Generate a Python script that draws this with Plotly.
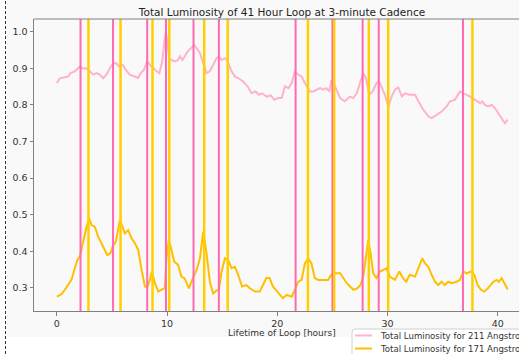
import plotly.graph_objects as go

# ---- data ----
t_211 = [0, 0.27, 0.73, 1.03, 1.24, 1.63, 2.09, 2.39, 2.75, 3.0,
         3.3, 3.6, 3.9, 4.2, 4.5, 4.8, 5.1, 5.4, 5.65, 5.96,
         6.26, 6.62, 7.08, 7.38, 7.6, 7.9, 8.2, 8.44, 8.8, 9.05,
         9.3, 9.56, 9.8, 9.9, 10.05, 10.2, 10.4, 10.7, 11.0, 11.16,
         11.4, 11.6, 11.86, 12.16, 12.46, 12.68, 12.98, 13.28, 13.58, 13.88,
         14.2, 14.5, 14.7, 14.95, 15.25, 15.5, 15.85, 16.15, 16.5, 16.9,
         17.3, 17.67, 18.03, 18.33, 18.63, 19.03, 19.42, 19.72, 20.08, 20.4,
         20.7, 21.0, 21.3, 21.6, 21.9, 22.2, 22.5, 22.96, 23.26, 23.57,
         23.87, 24.17, 24.47, 24.7, 24.93, 25.1, 25.4, 25.7, 26.1, 26.6,
         26.9, 27.2, 27.5, 27.8, 28.04, 28.35, 28.65, 29.0, 29.25, 29.46,
         29.76, 30.07, 30.37, 30.67, 30.97, 31.3, 31.6, 32.0, 32.5, 32.8,
         33.24, 33.7, 34.0, 34.45, 34.9, 35.36, 35.66, 36.1, 36.57, 36.87,
         37.2, 37.5, 37.93, 38.4, 38.6, 38.84, 39.1, 39.45, 39.75, 40.05,
         40.4, 40.65, 40.9]
lum_211 = [0.860, 0.873, 0.876, 0.878, 0.887, 0.892, 0.905, 0.900, 0.900, 0.892,
           0.883, 0.887, 0.883, 0.873, 0.883, 0.900, 0.914, 0.914, 0.905, 0.910,
           0.896, 0.883, 0.878, 0.874, 0.887, 0.896, 0.919, 0.910, 0.900, 0.892,
           0.887, 0.919, 0.983, 1.000, 0.964, 0.925, 0.923, 0.919, 0.923, 0.933,
           0.923, 0.933, 0.946, 0.955, 0.964, 0.955, 0.942, 0.914, 0.887, 0.892,
           0.910, 0.928, 0.933, 0.923, 0.928, 0.919, 0.892, 0.878, 0.873, 0.864,
           0.851, 0.832, 0.837, 0.828, 0.832, 0.823, 0.826, 0.814, 0.819, 0.819,
           0.851, 0.846, 0.860, 0.892, 0.883, 0.878, 0.860, 0.837, 0.837, 0.842,
           0.846, 0.842, 0.846, 0.837, 0.869, 0.860, 0.837, 0.819, 0.810, 0.823,
           0.819, 0.832, 0.860, 0.887, 0.873, 0.828, 0.837, 0.860, 0.864, 0.851,
           0.828, 0.796, 0.823, 0.842, 0.848, 0.823, 0.832, 0.828, 0.828, 0.810,
           0.787, 0.769, 0.764, 0.773, 0.782, 0.796, 0.810, 0.814, 0.837, 0.832,
           0.828, 0.823, 0.814, 0.805, 0.810, 0.800, 0.796, 0.800, 0.791, 0.778,
           0.760, 0.750, 0.760]

t_171 = [0, 0.43, 0.73, 1.03, 1.33, 1.63, 1.85, 2.09, 2.4, 2.7,
         2.93, 3.15, 3.45, 3.75, 4.05, 4.35, 4.57, 4.87, 5.05, 5.35,
         5.72, 5.96, 6.17, 6.47, 6.78, 7.08, 7.38, 7.69, 7.99, 8.2,
         8.44, 8.62, 8.9, 9.2, 9.5, 9.8, 9.95, 10.16, 10.4, 10.65,
         11.0, 11.3, 11.6, 11.98, 12.28, 12.68, 12.98, 13.28, 13.58, 13.88,
         14.18, 14.5, 14.7, 14.95, 15.25, 15.55, 15.85, 16.15, 16.45, 16.8,
         17.2, 17.5, 17.97, 18.4, 18.7, 19.0, 19.3, 19.6, 20.0, 20.24,
         20.5, 20.84, 21.3, 21.6, 21.9, 22.2, 22.5, 22.8, 23.1, 23.4,
         23.7, 24.17, 24.6, 24.9, 25.2, 25.7, 26.0, 26.3, 26.6, 26.9,
         27.25, 27.55, 27.8, 28.04, 28.25, 28.46, 28.7, 29.0, 29.3, 29.6,
         29.9, 30.2, 30.67, 31.07, 31.4, 31.7, 32.0, 32.5, 32.8, 33.15,
         33.4, 33.7, 34.0, 34.3, 34.6, 34.9, 35.2, 35.5, 35.8, 36.27,
         36.57, 36.87, 37.17, 37.57, 37.87, 38.17, 38.47, 38.78, 39.1, 39.6,
         39.9, 40.1, 40.35, 40.65, 40.9]
lum_171 = [0.276, 0.283, 0.295, 0.308, 0.322, 0.354, 0.376, 0.386, 0.431, 0.467,
           0.490, 0.472, 0.467, 0.440, 0.422, 0.404, 0.390, 0.395, 0.413, 0.426,
           0.486, 0.467, 0.449, 0.458, 0.436, 0.422, 0.404, 0.349, 0.304, 0.302,
           0.322, 0.345, 0.313, 0.290, 0.295, 0.300, 0.381, 0.431, 0.404, 0.372,
           0.363, 0.331, 0.326, 0.299, 0.322, 0.349, 0.381, 0.454, 0.395, 0.317,
           0.285, 0.293, 0.295, 0.345, 0.381, 0.376, 0.354, 0.358, 0.336, 0.304,
           0.308, 0.299, 0.290, 0.290, 0.308, 0.327, 0.327, 0.304, 0.290, 0.281,
           0.272, 0.281, 0.276, 0.295, 0.317, 0.322, 0.367, 0.381, 0.367, 0.327,
           0.322, 0.322, 0.322, 0.336, 0.340, 0.340, 0.327, 0.313, 0.304, 0.295,
           0.299, 0.308, 0.331, 0.381, 0.431, 0.395, 0.340, 0.327, 0.345, 0.349,
           0.354, 0.331, 0.322, 0.345, 0.327, 0.317, 0.336, 0.331, 0.354, 0.381,
           0.367, 0.358, 0.336, 0.317, 0.308, 0.317, 0.308, 0.317, 0.313, 0.317,
           0.322, 0.345, 0.340, 0.345, 0.336, 0.308, 0.295, 0.290, 0.299, 0.317,
           0.322, 0.317, 0.327, 0.308, 0.296]

pink_events = [2.15, 5.1, 8.2, 9.9, 12.4, 14.7, 21.66, 25.0, 27.74, 29.2, 36.84]
gold_events = [2.87, 5.78, 8.68, 10.2, 13.37, 15.5, 22.78, 25.16, 28.3, 30.06, 37.7]

x_ticks = [0, 10, 20, 30, 40]
y_ticks = [0.3, 0.4, 0.5, 0.6, 0.7, 0.8, 0.9, 1.0]

TITLE = "Total Luminosity of 41 Hour Loop at 3-minute Cadence"
XLABEL = "Lifetime of Loop [hours]"
NAME_211 = "Total Luminosity for 211 Angstrom"
NAME_171 = "Total Luminosity for 171 Angstrom"

C211, C171 = "#ffb3c6", "#ffbf00"
CPINK, CGOLD = "#ff69b4", "#ffd000"

# ---- figure geometry (pixels) ----
W, H = 519, 354
L, T, B = 34, 19, 311
PW, PH = W - L, B - T
FONT = "DejaVu Sans"

def px_x(p):
    return (p - L) / PW

def px_y(p):
    return (B - p) / PH

fig = go.Figure()
fig.add_trace(go.Scatter(x=t_211, y=lum_211, mode="lines", name=NAME_211,
                         line=dict(color=C211, width=2), showlegend=False))
fig.add_trace(go.Scatter(x=t_171, y=lum_171, mode="lines", name=NAME_171,
                         line=dict(color=C171, width=2), showlegend=False))

for xv in pink_events:
    fig.add_vline(x=xv, line=dict(color=CPINK, width=2))
for xv in gold_events:
    fig.add_vline(x=xv, line=dict(color=CGOLD, width=2.5))

# background of the figure panel and the clipped notebook border
fig.add_shape(type="rect", xref="paper", yref="paper", layer="below",
              x0=px_x(7), x1=px_x(W), y0=px_y(337), y1=px_y(0),
              fillcolor="#f9f9f9", line=dict(width=0))
fig.add_shape(type="line", xref="paper", yref="paper",
              x0=px_x(5.5), x1=px_x(5.5), y0=px_y(H), y1=px_y(0),
              line=dict(color="#333333", width=1, dash="3px,2px"))
# top spine
fig.add_shape(type="line", xref="paper", yref="paper",
              x0=0, x1=1, y0=1, y1=1, line=dict(color="#808080", width=1))

# legend (clipped by the picture's right and bottom edges, as in the reference)
lx0, ly0, lx1, ly1, r = 352, 329, 600, 400, 3
path = (f"M {px_x(lx0)},{px_y(ly1)} L {px_x(lx0)},{px_y(ly0 + r)} "
        f"Q {px_x(lx0)},{px_y(ly0)} {px_x(lx0 + r)},{px_y(ly0)} "
        f"L {px_x(lx1)},{px_y(ly0)} L {px_x(lx1)},{px_y(ly1)} Z")
fig.add_shape(type="path", xref="paper", yref="paper", path=path,
              fillcolor="#ffffff", line=dict(color="#d0d0d0", width=1))
for name, col, yy in [(NAME_211, C211, 335.5), (NAME_171, C171, 348.5)]:
    fig.add_shape(type="line", xref="paper", yref="paper",
                  x0=px_x(355), x1=px_x(372), y0=px_y(yy), y1=px_y(yy),
                  line=dict(color=col, width=2))
    fig.add_annotation(text=name, xref="paper", yref="paper",
                       x=px_x(378), y=px_y(yy), showarrow=False,
                       xanchor="left", yanchor="middle",
                       font=dict(family=FONT, size=8.6, color="#333333"))

fig.add_annotation(text=XLABEL, xref="paper", yref="paper",
                   x=px_x(282), y=px_y(332.5), showarrow=False,
                   font=dict(family=FONT, size=9, color="#333333"),
                   xanchor="center", yanchor="middle")

fig.update_layout(
    width=W, height=H,
    margin=dict(l=L, r=0, t=T, b=H - B, autoexpand=False),
    paper_bgcolor="#ffffff", plot_bgcolor="#f9f9f9",
    font=dict(family=FONT, size=10, color="#333333"),
    title=dict(text=TITLE, x=px_x(282), xref="paper", xanchor="center",
               y=1 - 12 / H, yanchor="middle",
               font=dict(family=FONT, size=10.5, color="#222222")),
    showlegend=False,
)
x_rng = [-2.07, (W - 57) / 11.02]
fig.update_xaxes(range=x_rng, tickvals=x_ticks, ticktext=[str(v) for v in x_ticks],
                 showgrid=False, zeroline=False, showline=True, linecolor="#808080",
                 linewidth=1, ticks="outside", ticklen=3.5, tickcolor="#808080",
                 tickfont=dict(family=FONT, size=9.5, color="#333333"))
fig.update_yaxes(range=[0.237, 1.035], tickvals=y_ticks,
                 ticktext=["%.1f" % v for v in y_ticks],
                 showgrid=False, zeroline=False, showline=True, linecolor="#808080",
                 linewidth=1, ticks="outside", ticklen=3.5, tickcolor="#808080",
                 tickfont=dict(family=FONT, size=9.5, color="#333333"))

fig.write_html("out.html", config={"displayModeBar": False},
               post_script="document.body.style.margin='0';document.body.style.overflow='hidden';")
